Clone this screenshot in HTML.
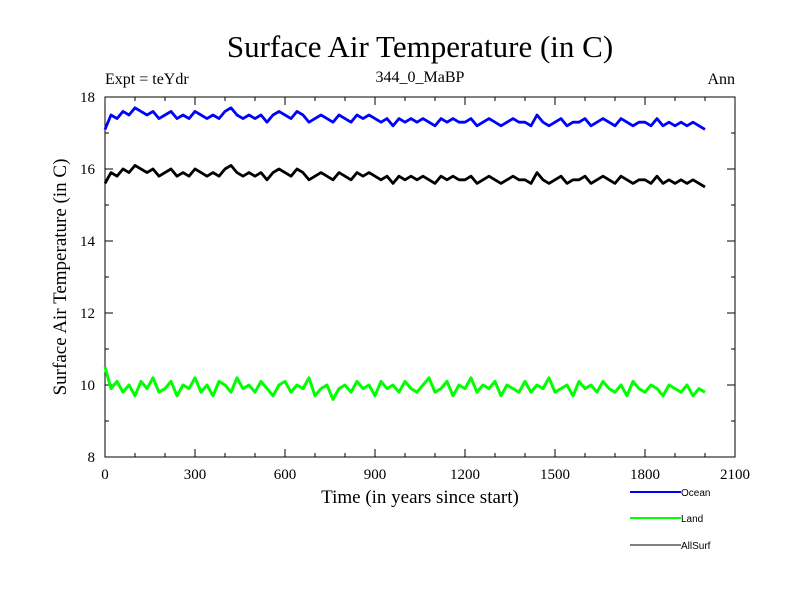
<!DOCTYPE html>
<html><head><meta charset="utf-8"><style>
body{margin:0;background:#fff}
svg text{font-family:"Liberation Serif",serif}
</style></head><body>
<svg id="chart" width="800" height="600" xmlns="http://www.w3.org/2000/svg">
<text x="420" y="57" font-size="31" text-anchor="middle">Surface Air Temperature (in C)</text>
<text x="105" y="84" font-size="16">Expt = teYdr</text>
<text x="420" y="82" font-size="16" text-anchor="middle">344_0_MaBP</text>
<text x="735" y="84" font-size="16" text-anchor="end">Ann</text>
<text transform="translate(66,277) rotate(-90)" font-size="19" text-anchor="middle">Surface Air Temperature (in C)</text>
<text x="420" y="503" font-size="19" text-anchor="middle">Time (in years since start)</text>
<g id="axes"></g>
<g id="series"></g>
<g id="legend"></g>
</svg>
<script>
const xTicks=[0,300,600,900,1200,1500,1800,2100];
const yTicks=[8,10,12,14,16,18];
const years=[];for(let i=0;i<=100;i++)years.push(i*20);
const ocean=[17.1,17.5,17.4,17.6,17.5,17.7,17.6,17.5,17.6,17.4,
17.5,17.6,17.4,17.5,17.4,17.6,17.5,17.4,17.5,17.4,
17.6,17.7,17.5,17.4,17.5,17.4,17.5,17.3,17.5,17.6,
17.5,17.4,17.6,17.5,17.3,17.4,17.5,17.4,17.3,17.5,
17.4,17.3,17.5,17.4,17.5,17.4,17.3,17.4,17.2,17.4,
17.3,17.4,17.3,17.4,17.3,17.2,17.4,17.3,17.4,17.3,
17.3,17.4,17.2,17.3,17.4,17.3,17.2,17.3,17.4,17.3,
17.3,17.2,17.5,17.3,17.2,17.3,17.4,17.2,17.3,17.3,
17.4,17.2,17.3,17.4,17.3,17.2,17.4,17.3,17.2,17.3,
17.3,17.2,17.4,17.2,17.3,17.2,17.3,17.2,17.3,17.2,17.1];
const land=[10.5,9.9,10.1,9.8,10.0,9.7,10.1,9.9,10.2,9.8,
9.9,10.1,9.7,10.0,9.9,10.2,9.8,10.0,9.7,10.1,
10.0,9.8,10.2,9.9,10.0,9.8,10.1,9.9,9.7,10.0,
10.1,9.8,10.0,9.9,10.2,9.7,9.9,10.0,9.6,9.9,
10.0,9.8,10.1,9.9,10.0,9.7,10.1,9.9,10.0,9.8,
10.1,9.9,9.8,10.0,10.2,9.8,9.9,10.1,9.7,10.0,
9.9,10.2,9.8,10.0,9.9,10.1,9.7,10.0,9.9,9.8,
10.1,9.8,10.0,9.9,10.2,9.8,9.9,10.0,9.7,10.1,
9.9,10.0,9.8,10.1,9.9,9.8,10.0,9.7,10.1,9.9,
9.8,10.0,9.9,9.7,10.0,9.9,9.8,10.0,9.7,9.9,9.8];
const allsurf=[15.6,15.9,15.8,16.0,15.9,16.1,16.0,15.9,16.0,15.8,
15.9,16.0,15.8,15.9,15.8,16.0,15.9,15.8,15.9,15.8,
16.0,16.1,15.9,15.8,15.9,15.8,15.9,15.7,15.9,16.0,
15.9,15.8,16.0,15.9,15.7,15.8,15.9,15.8,15.7,15.9,
15.8,15.7,15.9,15.8,15.9,15.8,15.7,15.8,15.6,15.8,
15.7,15.8,15.7,15.8,15.7,15.6,15.8,15.7,15.8,15.7,
15.7,15.8,15.6,15.7,15.8,15.7,15.6,15.7,15.8,15.7,
15.7,15.6,15.9,15.7,15.6,15.7,15.8,15.6,15.7,15.7,
15.8,15.6,15.7,15.8,15.7,15.6,15.8,15.7,15.6,15.7,
15.7,15.6,15.8,15.6,15.7,15.6,15.7,15.6,15.7,15.6,15.5];
const L=105,R=735,T=97,B=457;
const xs=v=>L+(v-0)/2100*(R-L);
const ys=v=>B-(v-8)/10*(B-T);
const NS='http://www.w3.org/2000/svg';
function mk(tag,attrs,parent){const e=document.createElementNS(NS,tag);for(const k in attrs)e.setAttribute(k,attrs[k]);parent.appendChild(e);return e;}
const axes=document.getElementById('axes');
const frame=mk('rect',{x:L,y:T,width:R-L,height:B-T,fill:'none',stroke:'#000','stroke-width':1},axes);


for(let v=0;v<=2100;v+=100){const maj=v%300===0;const len=maj?8:4;
 mk('line',{x1:xs(v),x2:xs(v),y1:B,y2:B-len,stroke:'#000'},axes);
 mk('line',{x1:xs(v),x2:xs(v),y1:T,y2:T+len,stroke:'#000'},axes);}
for(let v=8;v<=18;v+=1){const maj=v%2===0;const len=maj?8:4;
 mk('line',{x1:L,x2:L+len,y1:ys(v),y2:ys(v),stroke:'#000'},axes);
 mk('line',{x1:R,x2:R-len,y1:ys(v),y2:ys(v),stroke:'#000'},axes);}
xTicks.forEach(v=>{const t=mk('text',{x:xs(v),y:B+22,'font-size':15,'text-anchor':'middle'},axes);t.textContent=v;
 
 });
yTicks.forEach(v=>{const t=mk('text',{x:L-10,y:ys(v)+5,'font-size':15,'text-anchor':'end'},axes);t.textContent=v;
 
 });
const ser=document.getElementById('series');
function line(vals,color,name,w){const d=vals.map((v,i)=>(i?'L':'M')+xs(years[i]).toFixed(1)+','+ys(v).toFixed(1)).join('');
 const p=mk('path',{d:d,fill:'none',stroke:color,'stroke-width':w,'stroke-linejoin':'round'},ser);
 
 }
line(ocean,'#0000ff','ocean-line',2.8);
line(land,'#00ff00','land-line',3);
line(allsurf,'#000000','allsurf-line',2.8);
const leg=document.getElementById('legend');
[['Ocean','#0000ff',492],['Land','#00ff00',518],['AllSurf','#000000',545]].forEach(([n,c,y])=>{
 const g=mk('g',{},leg);
 
 
 mk('line',{x1:630,x2:681,y1:y,y2:y,stroke:c,'stroke-width':c==='#000000'?1:2},g);
 const t=mk('text',{x:681,y:y+4,'font-size':10,style:'font-family:"Liberation Sans",sans-serif'},g);t.textContent=n;});
</script>
</body></html>
